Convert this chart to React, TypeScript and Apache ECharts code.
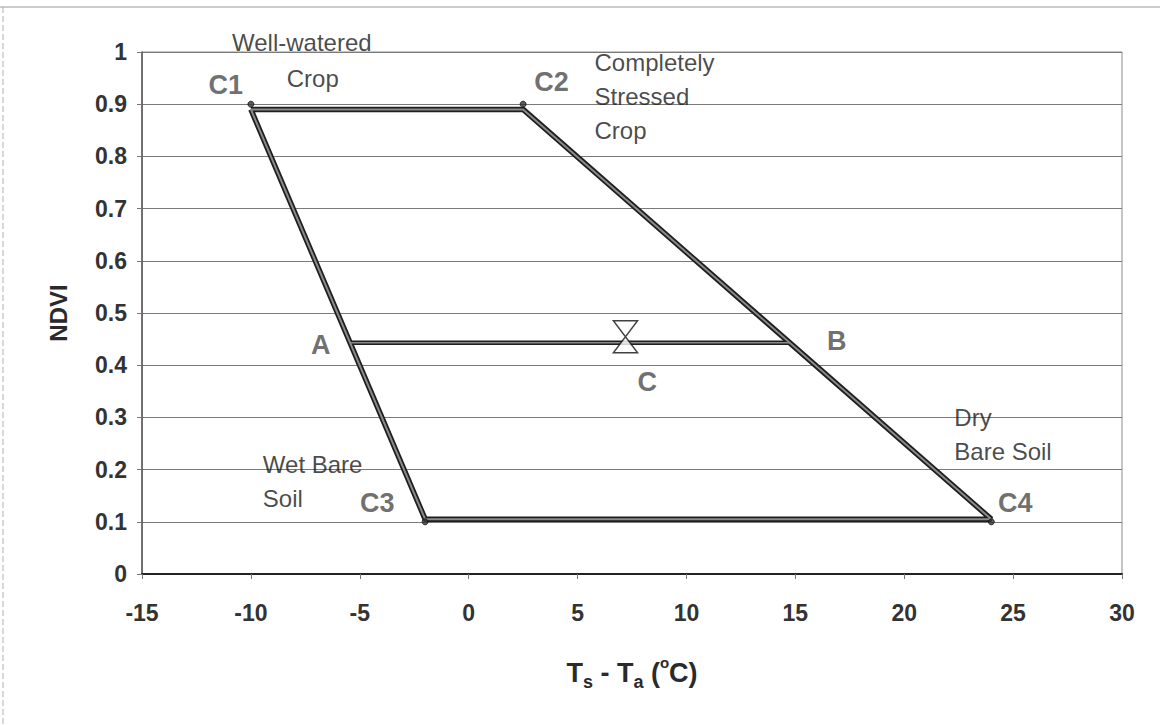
import React, { useEffect, useRef } from "react";
import * as echarts from "echarts";

// Trapezoid (Ts-Ta vs NDVI) vertices: C1 -> C2 -> C4 -> C3 -> C1
const polygonX = [-10, 2.5, 24, -2, -10];
const polygonY = [0.89, 0.89, 0.105, 0.105, 0.89];
// Corner dots C1, C2, C3, C4
const cornerX = [-10, 2.5, -2, 24];
const cornerY = [0.9, 0.9, 0.1, 0.1];
// Transect A-B
const transectX = [-5.44, 14.74];
const transectY = [0.443, 0.443];
// Point C
const pointCX = 7.2;
const pointCY = 0.443;
// Letter labels
const labelTexts = ["C1", "C2", "C3", "C4", "A", "B", "C"];
const labelX = [-11.15, 3.8, -4.2, 25.1, -6.79, 16.9, 8.2];
const labelY = [0.937, 0.943, 0.136, 0.136, 0.439, 0.446, 0.368];
// Notes
const noteTexts = ["Well-watered", "Crop", "Completely\nStressed\nCrop", "Wet Bare\nSoil", "Dry\nBare Soil"];
const noteX = [-7.66, -7.16, 5.78, -9.45, 22.3];
const noteY = [1.019, 0.95, 0.914, 0.178, 0.268];
const noteAlign = ["center", "center", "left", "left", "left"];
// Axes
const xMin = -15, xMax = 30, xStep = 5;
const yMin = 0, yMax = 1, yStep = 0.1;
const xTitle = "{t|T}{sub|s}{t| - T}{sub|a}{t| (}{sup|o}{t|C)}";
const yTitle = "NDVI";

const FONT = "'Liberation Sans', Arial, sans-serif";

export default function App() {
  const ref = useRef<HTMLDivElement>(null);
  useEffect(() => {
    document.body.style.margin = "0";
    const chart = echarts.init(ref.current!, null, { renderer: "svg" });
    const poly = polygonX.map((x, i) => [x, polygonY[i]]);
    const corners = cornerX.map((x, i) => [x, cornerY[i]]);
    const tr = transectX.map((x, i) => [x, transectY[i]]);
    const labels = labelTexts.map((t, i) => ({ name: t, value: [labelX[i], labelY[i]] }));
    const notes = noteTexts.map((t, i) => ({
      name: t,
      value: [noteX[i], noteY[i]],
      label: { align: noteAlign[i] },
    }));
    chart.setOption({
      animation: false,
      backgroundColor: "#fff",
      textStyle: { fontFamily: FONT },
      grid: {
        left: 142, right: 38, top: 52, bottom: 151,
        show: true, borderColor: "#8a8a8a", borderWidth: 1,
      },
      xAxis: {
        type: "value", min: xMin, max: xMax, interval: xStep,
        name: xTitle, nameLocation: "middle", nameGap: 81,
        nameTextStyle: {
          rich: {
            t: { fontSize: 27, fontWeight: "bold", color: "#2a2a2a", lineHeight: 36, fontFamily: FONT },
            sub: { fontSize: 18, fontWeight: "bold", color: "#2a2a2a", lineHeight: 18, verticalAlign: "bottom", fontFamily: FONT },
            sup: { fontSize: 15, fontWeight: "bold", color: "#2a2a2a", lineHeight: 15, verticalAlign: "top", fontFamily: FONT },
          },
        },
        axisLine: { show: true, onZero: false, lineStyle: { color: "#222", width: 2 } },
        axisTick: { show: true, length: 5, lineStyle: { color: "#777" } },
        axisLabel: { fontSize: 23, fontWeight: "bold", color: "#333", margin: 27, fontFamily: FONT },
        splitLine: { show: false },
      },
      yAxis: {
        type: "value", min: yMin, max: yMax, interval: yStep,
        name: yTitle, nameLocation: "middle", nameGap: 72, nameRotate: 90,
        nameTextStyle: { fontSize: 24, fontWeight: "bold", color: "#2a2a2a", fontFamily: FONT },
        axisLine: { show: true, onZero: false, lineStyle: { color: "#555", width: 1.5 } },
        axisTick: { show: true, length: 5, lineStyle: { color: "#777" } },
        axisLabel: {
          fontSize: 23, fontWeight: "bold", color: "#333", margin: 15, fontFamily: FONT,
          formatter: (v: number) => String(Math.round(v * 10) / 10),
        },
        splitLine: { show: true, lineStyle: { color: "#7a7a7a", width: 1 } },
      },
      graphic: [
        { type: "line", shape: { x1: 0, y1: 7, x2: 1160, y2: 7 }, style: { stroke: "#9a9a9a", lineWidth: 1 }, silent: true },
        { type: "line", shape: { x1: 3, y1: 7, x2: 3, y2: 725 }, style: { stroke: "#b0b0b0", lineWidth: 1, lineDash: [6, 3] }, silent: true },
      ],
      series: [
        {
          type: "line", data: poly, showSymbol: false, z: 3,
          lineStyle: { color: "#1e1e1e", width: 5.5 },
        },
        {
          type: "line", data: poly, showSymbol: false, z: 4,
          lineStyle: { color: "#8a8a8a", width: 2 },
        },
        {
          type: "line", data: tr, showSymbol: false, z: 3,
          lineStyle: { color: "#1e1e1e", width: 4.5 },
        },
        {
          type: "line", data: tr, showSymbol: false, z: 4,
          lineStyle: { color: "#8a8a8a", width: 1.5 },
        },
        {
          type: "scatter", data: corners, symbol: "circle", symbolSize: 6, z: 5,
          itemStyle: { color: "#333", borderColor: "#111", borderWidth: 1 },
        },
        {
          type: "scatter", data: [[pointCX, pointCY]], z: 6,
          symbol: "path://M0,0 L24,0 L0,32 L24,32 Z", symbolSize: [24, 32], symbolKeepAspect: false,
          symbolOffset: [0, -6],
          itemStyle: { color: "#fff", borderColor: "#111", borderWidth: 1.5 },
        },
        {
          type: "scatter", data: labels, symbolSize: 1, clip: false, z: 7,
          itemStyle: { color: "transparent" },
          label: {
            show: true, position: "inside", formatter: "{b}",
            fontSize: 27, fontWeight: "bold", color: "#4a4a4a", fontFamily: FONT,
          },
        },
        {
          type: "scatter", data: notes, symbolSize: 1, clip: false, z: 7,
          itemStyle: { color: "transparent" },
          label: {
            show: true, position: "inside", formatter: "{b}",
            fontSize: 24, color: "#1a1a1a", lineHeight: 34, fontFamily: FONT,
          },
        },
      ],
    });
    return () => chart.dispose();
  }, []);
  return <div ref={ref} style={{ width: 1160, height: 725 }} />;
}
